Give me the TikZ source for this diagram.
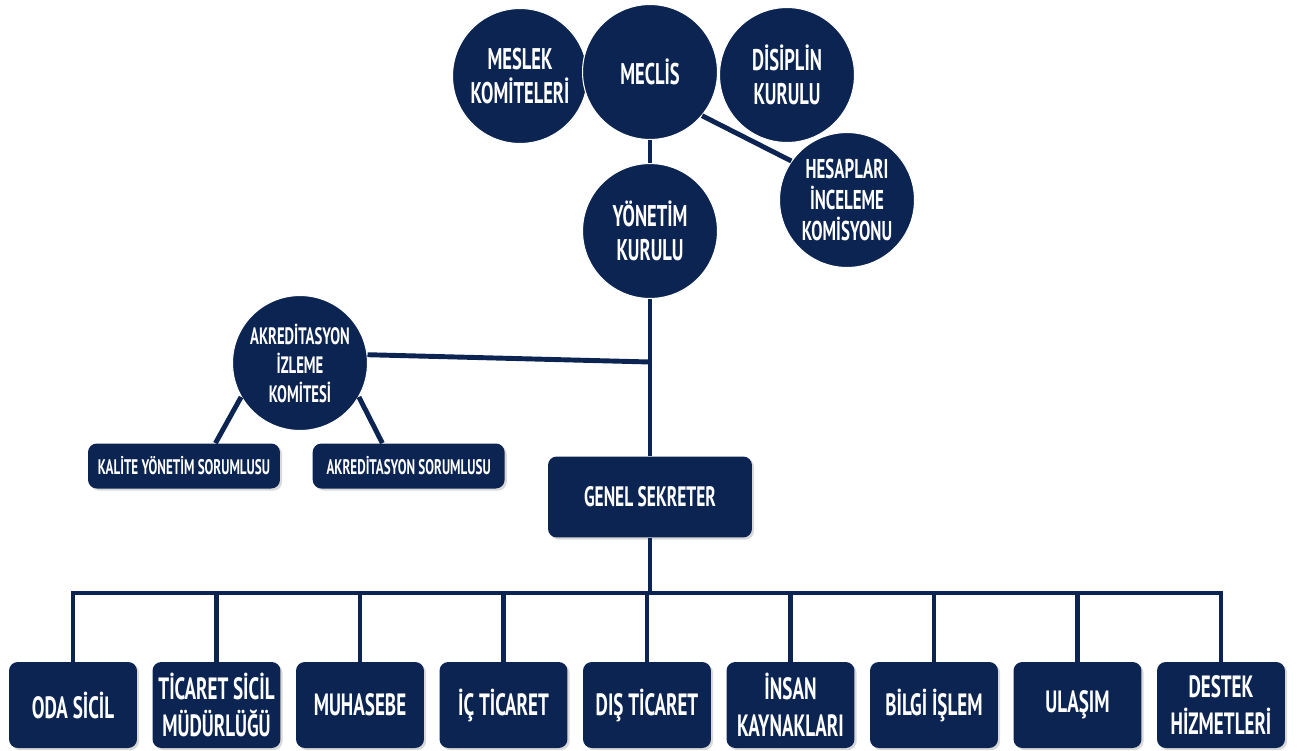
\documentclass[tikz,border=0pt]{standalone}
\usepackage{fontspec}
\setmainfont{PT Sans}[FakeStretch=0.62]
\usetikzlibrary{positioning,shadows}
\definecolor{lacivert}{HTML}{0B2452}

\begin{document}
\begin{tikzpicture}[x=0.02cm, y=-0.02cm,
        kurul/.style={circle, fill=lacivert, draw=white, line width=0.6pt, text=white, align=center,
            inner sep=0pt, minimum size=2.7cm, font=\bfseries\fontsize{17}{19}\selectfont},
        birim/.style={rounded corners=5pt, fill=lacivert, text=white, align=center,
            minimum width=2.56cm, minimum height=1.72cm, font=\bfseries\fontsize{17.5}{21}\selectfont,
            drop shadow={shadow xshift=1.2pt, shadow yshift=-1.2pt, opacity=0.3}},
        sorumlu/.style={birim, minimum width=3.84cm, minimum height=0.9cm, font=\bfseries\fontsize{12}{14}\selectfont},
        hat/.style={draw=lacivert, line width=2.8pt}]
        \useasboundingbox (0,0) rectangle (1306,751);

        \node[kurul] (meslek) at (520,76) {MESLEK\\KOMİTELERİ};
        \node[kurul] (disiplin) at (787,75) {DİSİPLİN\\KURULU};
        \node[kurul] (meclis) at (650,72) {MECLİS};
        \node[kurul, font=\bfseries\fontsize{15.5}{17.5}\selectfont] (hesap) at (847,200) {HESAPLARI\\İNCELEME\\KOMİSYONU};
        \node[kurul] (yonetim) at (650,231) {YÖNETİM\\KURULU};
        \node[kurul, font=\bfseries\fontsize{13.5}{16.5}\selectfont] (akr) at (300,363) {AKREDİTASYON\\İZLEME\\KOMİTESİ};
        \node[sorumlu] (kalite) at (184,466) {KALİTE YÖNETİM SORUMLUSU};
        \node[sorumlu] (akrsor) [right=0.64cm of kalite] {AKREDİTASYON SORUMLUSU};
        \node[birim, minimum width=4.08cm, minimum height=1.62cm, font=\bfseries\fontsize{16}{19}\selectfont] (genel) at (650,497) {GENEL SEKRETER};

        \foreach \ad [count=\i] in {ODA SİCİL, TİCARET SİCİL\\MÜDÜRLÜĞÜ, MUHASEBE, İÇ TİCARET, DIŞ TİCARET,
            İNSAN\\KAYNAKLARI, BİLGİ İŞLEM, ULAŞIM, DESTEK\\HİZMETLERİ}
            \node[birim] (b\i) at ({73+143.5*(\i-1)},705) {\ad};

        \coordinate (kavsak) at (650,362);
        \coordinate (bus) at (650,593);

        \draw[hat] (meclis) -- (yonetim);
        \draw[hat] (meclis.-40) -- (hesap.145);
        \draw[hat] (yonetim) -- (genel);
        \draw[hat] (akr.7) -- (kavsak);
        \draw[hat] (akr.210) -- (kalite.36);
        \draw[hat] (akr.330) -- (akrsor.139);
        \draw[hat] (genel) -- (bus);
        \draw[hat] (b1.north) |- (bus) -| (b9.north);
        \foreach \i in {2,...,8}
            \draw[hat] (b\i.north) -- (b\i.north |- bus);
    \end{tikzpicture}
\end{document}
